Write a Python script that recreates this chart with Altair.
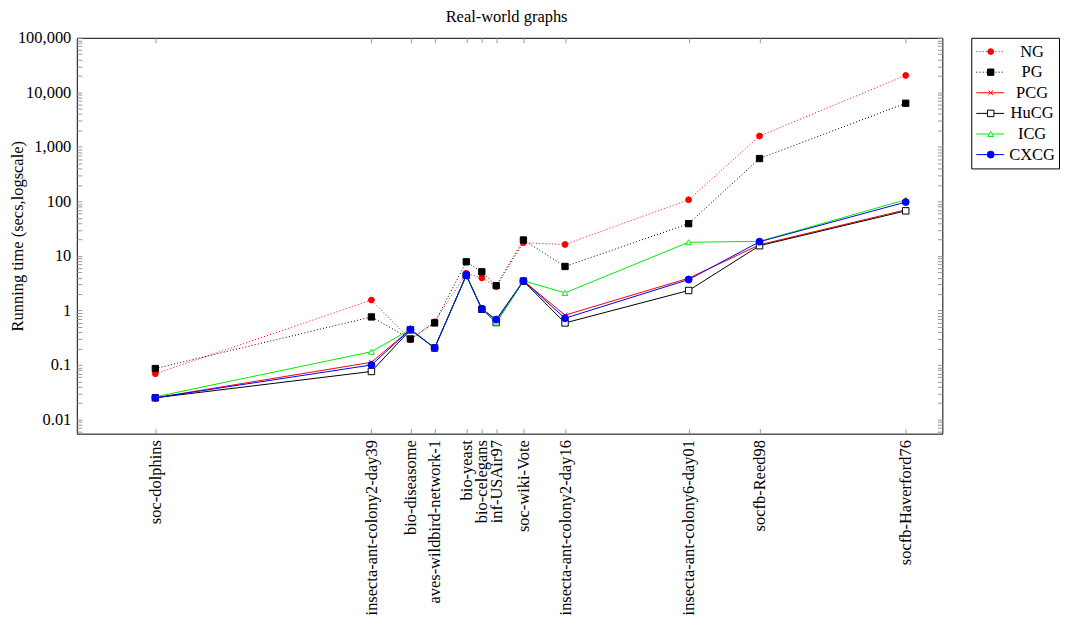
import altair as alt
import pandas as pd

# ---------------- data ----------------
graphs = ["soc-dolphins", "insecta-ant-colony2-day39", "bio-diseasome",
          "aves-wildbird-network-1", "bio-yeast", "bio-celegans", "inf-USAir97",
          "soc-wiki-Vote", "insecta-ant-colony2-day16", "insecta-ant-colony6-day01",
          "socfb-Reed98", "socfb-Haverford76"]
# approximate graph size (edges) used as the x position (log scale)
edges = [159, 876, 1192, 1443, 1853, 2095, 2347, 2910, 4042, 10730, 18780, 59590]

ng   = [0.069, 1.55, 0.29, 0.62, 4.8, 3.95, 2.75, 17.5, 16.2, 107, 1580, 20400]
pg   = [0.086, 0.76, 0.30, 0.59, 7.8, 5.1, 2.85, 19.6, 6.4, 39, 610, 6300]
pcg  = [0.025, 0.112, 0.45, 0.205, 4.4, 1.07, 0.66, 3.5, 0.82, 3.9, 16, 70]
hucg = [0.025, 0.076, 0.44, 0.205, 4.4, 1.05, 0.60, 3.45, 0.59, 2.32, 15.4, 67]
icg  = [0.026, 0.175, 0.45, 0.205, 4.4, 1.07, 0.60, 3.5, 2.1, 17.8, 18.5, 107]
cxcg = [0.025, 0.10, 0.45, 0.205, 4.4, 1.07, 0.68, 3.48, 0.72, 3.68, 18.2, 97]

series_names = ["NG", "PG", "PCG", "HuCG", "ICG", "CXCG"]
series_values = [ng, pg, pcg, hucg, icg, cxcg]

rows = []
for name, vals in zip(series_names, series_values):
    for g, e, v in zip(graphs, edges, vals):
        rows.append({"series": name, "graph": g, "edges": e, "time": v})
df = pd.DataFrame(rows)
leg_df = pd.DataFrame({"series": series_names})

# ---------------- styles ----------------
FONT = "Liberation Serif"
FS = 16.5
XPATH = "M-1,-1L1,1M-1,1L1,-1"
styles = {
    "NG":   dict(color="#ff0000", dash=[1, 2.2], shape="circle", fill="#ff0000", size=34),
    "PG":   dict(color="#000000", dash=[1, 2.2], shape="square", fill="#000000", size=40),
    "PCG":  dict(color="#ff0000", dash=None, shape=XPATH, fill=None, size=22),
    "HuCG": dict(color="#000000", dash=None, shape="square", fill="#ffffff", size=42),
    "ICG":  dict(color="#00ee00", dash=None, shape="triangle-up", fill="#ffffff", size=34),
    "CXCG": dict(color="#0000ff", dash=None, shape="circle", fill="#0000ff", size=48),
}

# ---------------- scales / axes ----------------
xscale = alt.Scale(type="log", domain=[85.5, 79580], nice=False)
yscale = alt.Scale(type="log", domain=[0.0055, 100000], nice=False)

y_ticks = []
for ex in range(-3, 6):
    for m in range(1, 10):
        v = round(m * 10 ** ex, 6)
        if 0.0055 <= v <= 100000:
            y_ticks.append(v)

names_js = "[" + ",".join("'" + g + "'" for g in graphs) + "]"
edges_js = "[" + ",".join(str(e) for e in edges) + "]"
x_label_expr = f"{names_js}[indexof({edges_js}, datum.value)]"
y_label_expr = ("abs(log(datum.value)/LN10 - round(log(datum.value)/LN10)) < 0.001"
                " ? format(datum.value, ',') : ''")

common_axis = dict(domain=False, grid=False, tickSize=5, tickColor="#999999",
                   tickWidth=1, offset=-5, labelFont=FONT, labelFontSize=FS,
                   labelColor="black", labelOverlap=False, labelFlush=False,
                   labelBound=False)

x_bottom = alt.Axis(orient="bottom", values=edges, labelExpr=x_label_expr,
                    labelAngle=270, labelPadding=6, labelLimit=180, title=None,
                    **common_axis)
y_left = alt.Axis(orient="left", values=y_ticks, labelExpr=y_label_expr,
                  labelPadding=6, title="Running time (secs,logscale)",
                  titleFont=FONT, titleFontSize=FS, titleFontWeight="normal",
                  titleColor="black", titleX=-56, titleY=198.5, titleAngle=270,
                  **common_axis)
x_top = alt.Axis(orient="top", values=edges, labels=False, title=None, **common_axis)
y_right = alt.Axis(orient="right", values=y_ticks, labels=False, title=None, **common_axis)

layers = []
first = True
for name in series_names:
    st = styles[name]
    sub = alt.Chart(df).transform_filter(alt.datum.series == name)
    line_kw = dict(color=st["color"], strokeWidth=1)
    if st["dash"]:
        line_kw["strokeDash"] = st["dash"]
    line = sub.mark_line(**line_kw).encode(
        x=alt.X("edges:Q", scale=xscale, axis=x_bottom if first else None),
        y=alt.Y("time:Q", scale=yscale, axis=y_left if first else None),
        order="edges:Q",
    )
    first = False
    pt_kw = dict(shape=st["shape"], size=st["size"], stroke=st["color"],
                 strokeWidth=1, opacity=1)
    if st["fill"]:
        pt_kw.update(filled=True, fill=st["fill"])
    else:
        pt_kw.update(filled=False)
    pts = sub.mark_point(**pt_kw).encode(
        x=alt.X("edges:Q", scale=xscale, axis=None),
        y=alt.Y("time:Q", scale=yscale, axis=None),
    )
    layers += [line, pts]

axis_layer = alt.Chart(df).transform_filter(alt.datum.series == "NG").mark_point(
    opacity=0).encode(
    x=alt.X("edges:Q", scale=xscale, axis=x_top),
    y=alt.Y("time:Q", scale=yscale, axis=y_right),
)
layers.append(axis_layer)

main = alt.layer(*layers).resolve_axis(x="independent", y="independent").properties(
    width=868, height=397)

# ---------------- legend panel ----------------
lx = alt.Scale(domain=[0, 88], nice=False, zero=False)
ly = alt.Scale(type="point", domain=series_names, padding=0.67)
leg_layers = []
for name in series_names:
    st = styles[name]
    sub = alt.Chart(leg_df).transform_filter(alt.datum.series == name)
    rk = dict(color=st["color"], strokeWidth=1)
    if st["dash"]:
        rk["strokeDash"] = st["dash"]
    rule = sub.mark_rule(**rk).encode(
        x=alt.XDatum(5, scale=lx, axis=None),
        x2=alt.X2Datum(33),
        y=alt.Y("series:N", scale=ly, axis=None),
    )
    pt_kw = dict(shape=st["shape"], size=st["size"], stroke=st["color"],
                 strokeWidth=1, opacity=1)
    if st["fill"]:
        pt_kw.update(filled=True, fill=st["fill"])
    else:
        pt_kw.update(filled=False)
    pt = sub.mark_point(**pt_kw).encode(
        x=alt.XDatum(19.5, scale=lx, axis=None),
        y=alt.Y("series:N", scale=ly, axis=None),
    )
    leg_layers += [rule, pt]
leg_text = alt.Chart(leg_df).mark_text(font=FONT, fontSize=FS, color="black",
                                        align="center", baseline="middle").encode(
    x=alt.XDatum(61, scale=lx, axis=None),
    y=alt.Y("series:N", scale=ly, axis=None),
    text="series:N",
)
leg_layers.append(leg_text)
legend_panel = alt.layer(*leg_layers).properties(width=88, height=131)

chart = alt.hconcat(main, legend_panel, spacing=27).properties(
    title=alt.TitleParams("Real-world graphs", font=FONT, fontSize=FS,
                          fontWeight="normal", color="black", anchor="middle",
                          dx=-28, offset=4),
    padding={"left": 1, "top": 0, "right": 0, "bottom": 0},
).configure_view(stroke="black", strokeWidth=1)

chart.save("out.html", embed_options={"renderer": "svg", "actions": False})
